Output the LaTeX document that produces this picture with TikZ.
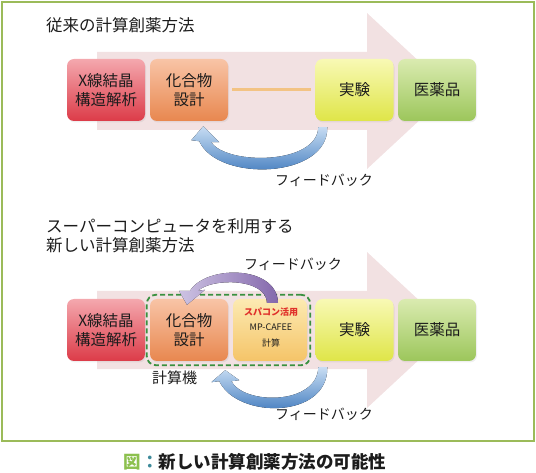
\documentclass[tikz,border=0pt]{standalone}
\usepackage{fontspec}
\setmainfont{Noto Sans CJK JP}
\usetikzlibrary{positioning,fit,calc,shadows}
\definecolor{ink}{HTML}{1C1C1C}
\definecolor{frameLine}{HTML}{9BBB59}
\definecolor{flowFill}{HTML}{F2E1E2}
\definecolor{redTop}{HTML}{F4A8AE}
\definecolor{redBot}{HTML}{DC3B48}
\definecolor{orgTop}{HTML}{F8C4A6}
\definecolor{orgBot}{HTML}{E8874F}
\definecolor{spcTop}{HTML}{FCEAB2}
\definecolor{spcBot}{HTML}{F5C468}
\definecolor{yelTop}{HTML}{F8F9B4}
\definecolor{yelBot}{HTML}{DFE548}
\definecolor{grnTop}{HTML}{DAEBB0}
\definecolor{grnBot}{HTML}{9CC65B}
\definecolor{blueTop}{HTML}{C8DDF3}
\definecolor{blueBot}{HTML}{2F6EB7}
\definecolor{purLight}{HTML}{CDC3E3}
\definecolor{purDark}{HTML}{8468AC}
\definecolor{dashGreen}{HTML}{3A9140}
\definecolor{spcRed}{HTML}{E0302A}
\definecolor{lineOrg}{HTML}{F3C384}
\definecolor{capGreen}{HTML}{8CC04E}
\definecolor{capTeal}{HTML}{3D8A9A}
\tikzset{
  every node/.append style = {text=ink},
  % --- process boxes ------------------------------------------------------
  stepbox/.style  = {draw=none, rounded corners=7pt, align=center,
                     minimum width=78pt, minimum height=62pt, inner sep=0pt,
                     font=\fontsize{15.5}{18.5}\selectfont,
                     drop shadow={opacity=0.12, shadow xshift=1pt, shadow yshift=-1.5pt}},
  redbox/.style   = {stepbox, top color=redTop, bottom color=redBot},
  orgbox/.style   = {stepbox, top color=orgTop, bottom color=orgBot},
  spcbox/.style   = {stepbox, top color=spcTop, bottom color=spcBot,
                     minimum width=74pt},
  yelbox/.style   = {stepbox, top color=yelTop, bottom color=yelBot},
  grnbox/.style   = {stepbox, top color=grnTop, bottom color=grnBot},
  % --- flows --------------------------------------------------------------
  bigflow/.style  = {fill=flowFill},
  fbblue/.style   = {top color=blueTop, bottom color=blueBot, draw=none},
  fbpurple/.style = {left color=purLight, right color=purDark, draw=none},
  % --- labels -------------------------------------------------------------
  title/.style    = {anchor=west, inner sep=0pt, font=\fontsize{16.5}{19}\selectfont,
                     align=left},
  fblbl/.style    = {anchor=west, inner sep=0pt, font=\fontsize{14}{16}\selectfont},
  caption/.style  = {inner sep=0pt, font=\fontsize{17.5}{20}\selectfont\bfseries},
}

\begin{document}
\begin{tikzpicture}[x=1pt, y=-1pt]
\useasboundingbox (0,0) rectangle (536,473);

% outer frame
\draw[frameLine, line width=2.5pt] (2,2) rectangle (534,441);

% ==================== conventional method ===================================
\node[title] (ttl1) at (46,25) {従来の計算創薬方法};

\fill[bigflow] (97,52) -- (367,52) -- (367,13) -- (451,91) -- (367,169)
               -- (367,130) -- (97,130) -- cycle;

\foreach \n/\x/\sty/\txt in {xr1/106/redbox/{X線結晶\\構造解析},
                             cmp1/189/orgbox/{化合物\\設計},
                             exp1/354.5/yelbox/{実験},
                             med1/437/grnbox/{医薬品}}{
  \node[\sty] (\n) at (\x,90) {\txt};}

\draw[lineOrg, line width=3pt, shorten <=4pt, shorten >=4pt]
      (cmp1.east) -- (exp1.west);

% feedback: experiment -> compound design
\coordinate (fbA) at ($(exp1.south west)+(7,6)$);
\fill[fbblue, shift={(fbA)}]
      (5,0) .. controls (6,52) and (-105,55) .. (-123,14)
      -- (-131,13) -- (-119,-1) -- (-103,15) -- (-111,15)
      .. controls (-96,38) and (-5,38) .. (-4,0) -- cycle;
\node[fblbl] (fb1) at (275,180) {フィードバック};

% ==================== supercomputer method ==================================
\node[title] (ttl2) at (46,235.5) {スーパーコンピュータを利用する\\新しい計算創薬方法};

\fill[bigflow] (97,291) -- (367,291) -- (367,252) -- (451,330) -- (367,408)
               -- (367,369) -- (97,369) -- cycle;

\foreach \n/\x/\sty/\txt in {xr2/106/redbox/{X線結晶\\構造解析},
                             cmp2/189/orgbox/{化合物\\設計},
                             exp2/354.5/yelbox/{実験},
                             med2/437/grnbox/{医薬品}}{
  \node[\sty] (\n) at (\x,330) {\txt};}

\node[spcbox] (spc2) at (270,330) {};
\node[font=\fontsize{9}{11}\selectfont\bfseries, text=spcRed, inner sep=0pt]
      (spcA) at (271,312) {スパコン活用};
\node[font=\fontsize{9}{11}\selectfont, inner sep=0pt] (spcB) at (271,327) {MP-CAFEE};
\node[font=\fontsize{9}{11}\selectfont, inner sep=0pt] (spcC) at (271,343) {計算};

\node[draw=dashGreen, line width=1.8pt, dash pattern=on 5pt off 3pt,
      rounded corners=9pt, inner xsep=3pt, inner ysep=4pt, fit=(cmp2)(spc2)]
      (calc2) {};
\node[anchor=west, inner sep=0pt, font=\fontsize{15}{17}\selectfont]
      (calclbl) at (152,378) {計算機};

% feedback: supercomputer -> compound design
\coordinate (fbP) at ($(spc2.north)+(2,4)$);
\fill[fbpurple, shift={(fbP)}]
      (6,0) .. controls (5,-38) and (-66,-38) .. (-82,-12)
      -- (-93,-12) -- (-85,2) -- (-67,-13) -- (-74,-12)
      .. controls (-60,-25) and (-6,-25) .. (-5,0) -- cycle;
\node[fblbl] (fb2) at (244,264) {フィードバック};

% feedback: experiment -> computer
\coordinate (fbB) at ($(exp2.south west)+(7,6)$);
\fill[fbblue, shift={(fbB)}]
      (5,0) .. controls (6,52) and (-85,52) .. (-103,14)
      -- (-111,15) -- (-97,3) -- (-83,13) -- (-91,14)
      .. controls (-78,38) and (-5,38) .. (-4,0) -- cycle;
\node[fblbl] (fb3) at (275,414) {フィードバック};

% caption
\node[caption] (cap) at (255,462)
      {\textcolor{capGreen}{図}\textcolor{capTeal}{：}新しい計算創薬方法の可能性};
\end{tikzpicture}
\end{document}
